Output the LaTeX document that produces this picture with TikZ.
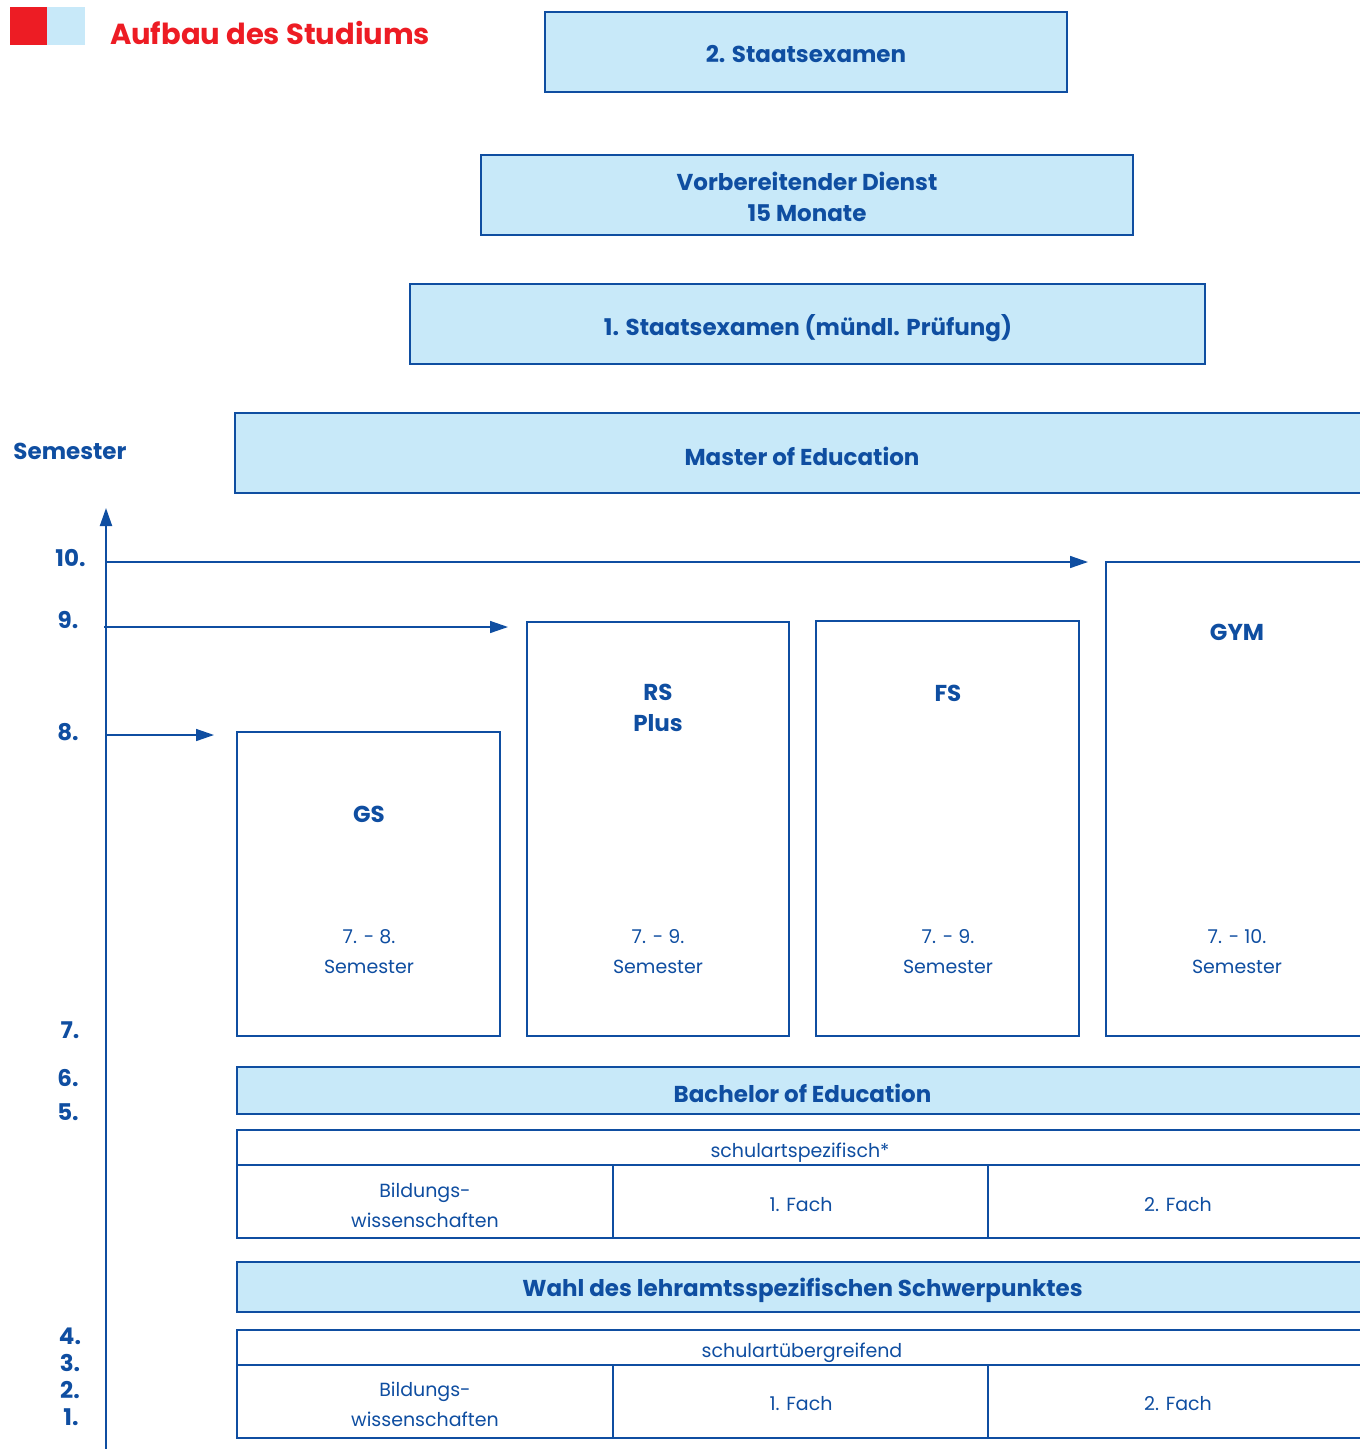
\documentclass[tikz,border=0pt]{standalone}
\usepackage{fontspec}
\setmainfont{Poppins}
\usetikzlibrary{arrows.meta}
\definecolor{dblue}{HTML}{0F4EA1}
\definecolor{lblue}{HTML}{C8E9F9}
\definecolor{tred}{HTML}{ED1C24}
\begin{document}
\begin{tikzpicture}[x=1pt,y=-1pt,
  every node/.style={text=dblue, inner sep=0pt, outer sep=0pt},
  hd/.style={font=\fontsize{23}{31}\selectfont\bfseries, align=center},
  bd/.style={font=\fontsize{19}{30}\selectfont, align=center},
  num/.style={font=\fontsize{23}{26}\selectfont\bfseries},
  fillbox/.style={draw=dblue, fill=lblue, line width=2.3pt},
  whitebox/.style={draw=dblue, fill=white, line width=2.3pt},
  arr/.style={draw=dblue, line width=1.5pt, -{Triangle[length=18pt,width=12pt]}}]
\useasboundingbox (0,0) rectangle (1360,1449);
\clip (0,0) rectangle (1360,1449);
% legend
\fill[tred] (10,7) rectangle (47,45);
\fill[lblue] (47,7) rectangle (85,45);
\node[anchor=west, text=tred, font=\fontsize{29}{34}\selectfont\bfseries] (title) at (110,33) {Aufbau des Studiums};
% top boxes
\node[fillbox, minimum width=522pt, minimum height=80pt] (s2) at (806,52) {};
\node[hd] (s2t) at (806,54) {2. Staatsexamen};
\node[fillbox, minimum width=652pt, minimum height=80pt] (vd) at (807,195) {};
\node[hd] (vdt) at (807,197) {Vorbereitender Dienst\\15 Monate};
\node[fillbox, minimum width=795pt, minimum height=80pt] (s1) at (807.5,324) {};
\node[hd] (s1t) at (808,328) {1. Staatsexamen (mündl. Prüfung)};
\node[fillbox, minimum width=1135pt, minimum height=80pt] (med) at (802.5,453) {};
\node[hd] (medt) at (802,456) {Master of Education};
\node[hd] (sem) at (70,451) {Semester};
% axis
\coordinate (ab) at (106,1449);
\coordinate (atop) at (106,508);
\draw[draw=dblue, line width=2pt, -{Triangle[length=18pt,width=12pt]}] (ab) -- (atop);
\node[num] (n10) at (70.5,558) {10.};
\node[num] (n9) at (68,620) {9.};
\node[num] (n8) at (68,732) {8.};
\node[num] (n7) at (70,1030) {7.};
\node[num] (n6) at (68,1078) {6.};
\node[num] (n5) at (68,1112) {5.};
\node[num] (n4) at (70,1336) {4.};
\node[num] (n3) at (70,1363) {3.};
\node[num] (n2) at (70,1390) {2.};
\node[num] (n1) at (71,1417) {1.};
% school type boxes
\node[whitebox, minimum width=263pt, minimum height=304pt] (gs) at (368.5,884) {};
\node[whitebox, minimum width=262pt, minimum height=414pt] (rs) at (658,829) {};
\node[whitebox, minimum width=263pt, minimum height=415pt] (fs) at (947.5,828.5) {};
\node[whitebox, minimum width=262pt, minimum height=474pt] (gym) at (1237,799) {};
\node[hd] (gst) at (369,814) {GS};
\node[hd] (rst) at (658,708) {RS\\Plus};
\node[hd] (fst) at (948,693) {FS};
\node[hd] (gymt) at (1237,632) {GYM};
\node[bd] (gss) at (369,952) {7. - 8.\\Semester};
\node[bd] (rss) at (658,952) {7. - 9.\\Semester};
\node[bd] (fss) at (948,952) {7. - 9.\\Semester};
\node[bd] (gyms) at (1237,952) {7. - 10.\\Semester};
% arrows
\coordinate (a10s) at (106,562);
\coordinate (a10e) at (1088,562);
\coordinate (a9s) at (104,627);
\coordinate (a9e) at (508,627);
\coordinate (a8s) at (106,735);
\coordinate (a8e) at (214,735);
\draw[arr] (a10s) -- (a10e);
\draw[arr] (a9s) -- (a9e);
\draw[arr] (a8s) -- (a8e);
% bachelor
\node[fillbox, minimum width=1131pt, minimum height=47pt] (bed) at (802.5,1090.5) {};
\node[hd] (bedt) at (802.5,1093) {Bachelor of Education};
\node[whitebox, minimum width=1131pt, minimum height=35pt] (spz) at (802.5,1147.5) {};
\node[bd] (spzt) at (800,1152.5) {schulartspezifisch*};
\node[whitebox, minimum width=376pt, minimum height=73pt] (bw1) at (425,1201.5) {};
\node[whitebox, minimum width=375pt, minimum height=73pt] (fa1) at (800.5,1201.5) {};
\node[whitebox, minimum width=380pt, minimum height=73pt] (fb1) at (1178,1201.5) {};
\node[bd] (bw1t) at (425,1205) {Bildungs-\\wissenschaften};
\node[bd] (fa1t) at (801,1204.5) {1. Fach};
\node[bd] (fb1t) at (1178,1204.5) {2. Fach};
% wahl
\node[fillbox, minimum width=1131pt, minimum height=50pt] (wahl) at (802.5,1287) {};
\node[hd] (wahlt) at (802.5,1290.5) {Wahl des lehramtsspezifischen Schwerpunktes};
\node[whitebox, minimum width=1131pt, minimum height=35pt] (ueb) at (802.5,1347.5) {};
\node[bd] (uebt) at (802,1352.5) {schulartübergreifend};
\node[whitebox, minimum width=376pt, minimum height=73pt] (bw2) at (425,1401.5) {};
\node[whitebox, minimum width=375pt, minimum height=73pt] (fa2) at (800.5,1401.5) {};
\node[whitebox, minimum width=380pt, minimum height=73pt] (fb2) at (1178,1401.5) {};
\node[bd] (bw2t) at (425,1404.5) {Bildungs-\\wissenschaften};
\node[bd] (fa2t) at (801,1403.5) {1. Fach};
\node[bd] (fb2t) at (1178,1403.5) {2. Fach};
\end{tikzpicture}
\end{document}
